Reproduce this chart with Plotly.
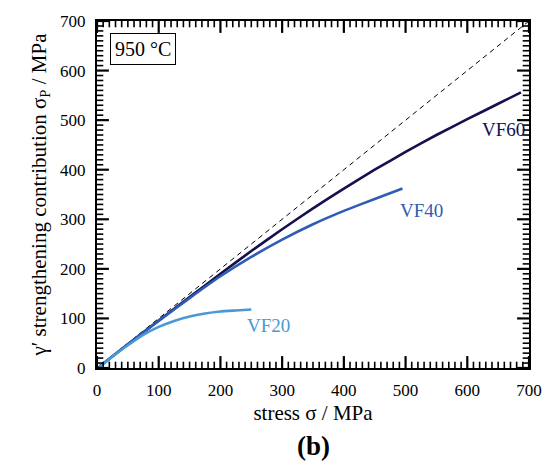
import plotly.graph_objects as go

# Applied stress (MPa) and gamma-prime strengthening contribution (MPa) at 950 °C
vf60_stress = [5, 50, 100, 150, 200, 250, 300, 350, 400, 450, 500, 550, 600, 650, 687]
vf60_sigma_p = [4, 48, 96, 143, 190, 236, 280, 322, 362, 400, 436, 470, 502, 533, 556]

vf40_stress = [5, 50, 100, 150, 200, 250, 300, 350, 400, 450, 495]
vf40_sigma_p = [4, 48, 95, 141, 185, 224, 259, 290, 317, 341, 362]

vf20_stress = [5, 25, 50, 75, 100, 125, 150, 175, 200, 225, 250]
vf20_sigma_p = [3, 23, 46, 67, 83, 95, 104, 110, 114, 116, 118]

ref_line = [0, 700]

series_names = ["VF60", "VF40", "VF20"]
series_colors = ["#16104f", "#2f5db3", "#4a98d6"]
label_pos = [(658, 482), (526, 318), (278, 86)]

AX_MIN, AX_MAX = 0, 700
major_vals = list(range(AX_MIN, AX_MAX + 1, 100))
minor_vals = [v for v in range(AX_MIN, AX_MAX + 1, 10) if v % 100]

FONT = "Liberation Serif, Times New Roman, serif"

fig = go.Figure()

fig.add_trace(go.Scatter(
    x=ref_line, y=ref_line, mode="lines",
    line=dict(color="black", width=1, dash="5px,4px"),
    showlegend=False, hoverinfo="skip",
))

series_data = [(vf60_stress, vf60_sigma_p), (vf40_stress, vf40_sigma_p), (vf20_stress, vf20_sigma_p)]
for (xs, ys), name, color in zip(series_data, series_names, series_colors):
    fig.add_trace(go.Scatter(
        x=xs, y=ys, mode="lines", name=name,
        line=dict(color=color, width=2.6, shape="spline", smoothing=0.4),
        showlegend=False,
    ))

# Inward-pointing tick marks on all four sides (half of each marker is clipped by the frame)
def add_ticks(vals, size, width):
    n = len(vals)
    edges = [AX_MIN] * n + [AX_MAX] * n
    fig.add_trace(go.Scatter(
        x=vals * 2, y=edges, mode="markers", cliponaxis=True,
        marker=dict(symbol="line-ns", size=size, line=dict(color="black", width=width)),
        showlegend=False, hoverinfo="skip",
    ))
    fig.add_trace(go.Scatter(
        x=edges, y=vals * 2, mode="markers", cliponaxis=True,
        marker=dict(symbol="line-ew", size=size, line=dict(color="black", width=width)),
        showlegend=False, hoverinfo="skip",
    ))

add_ticks(minor_vals, 9, 1.6)
add_ticks(major_vals, 17, 2.2)

for name, color, (lx, ly) in zip(series_names, series_colors, label_pos):
    fig.add_annotation(
        x=lx, y=ly, text=name, showarrow=False,
        font=dict(family=FONT, size=19, color=color),
        xanchor="center", yanchor="middle",
    )

fig.add_annotation(
    x=0.03, y=0.965, xref="paper", yref="paper",
    text="950 °C", showarrow=False,
    font=dict(family=FONT, size=20, color="black"),
    xanchor="left", yanchor="top",
    bordercolor="black", borderwidth=1, borderpad=4, bgcolor="white",
)

fig.add_annotation(
    x=0.5, y=-0.225, xref="paper", yref="paper",
    text="<b>(b)</b>", showarrow=False,
    font=dict(family=FONT, size=27, color="black"),
    xanchor="center", yanchor="middle",
)

axis_common = dict(
    range=[AX_MIN, AX_MAX], dtick=100,
    showgrid=False, zeroline=False,
    showline=True, linecolor="black", linewidth=2, mirror=True,
    ticks="", ticklabelstandoff=6,
    tickfont=dict(family=FONT, size=17, color="black"),
)

fig.update_xaxes(
    **axis_common,
    title=dict(text="stress σ / MPa", font=dict(family=FONT, size=21, color="black"), standoff=6),
)
fig.update_yaxes(
    **axis_common,
    title=dict(text="γ′ strengthening contribution σ<sub>P</sub> / MPa",
               font=dict(family=FONT, size=21, color="black"), standoff=8),
)

fig.update_layout(
    width=554, height=468,
    margin=dict(l=97, r=23, t=17, b=100),
    paper_bgcolor="white", plot_bgcolor="white",
    font=dict(family=FONT, color="black"),
)

fig.write_html("out.html")
